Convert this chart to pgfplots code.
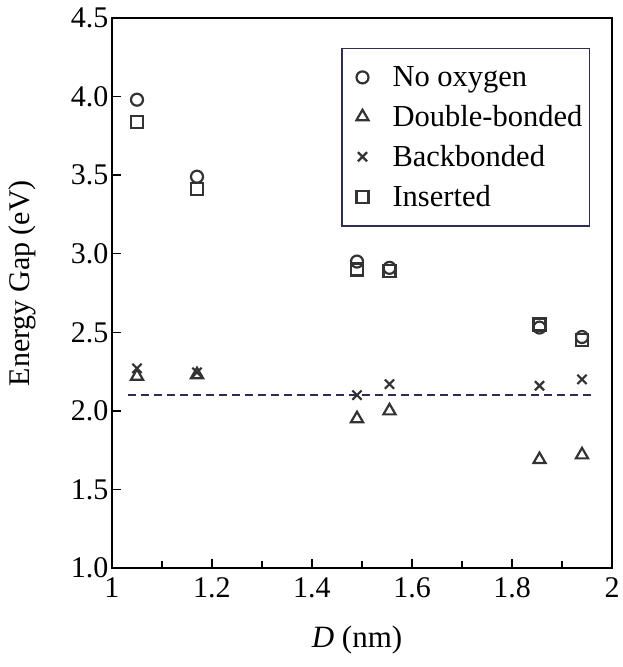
\documentclass[border=0pt]{standalone}
\usepackage{pgfplots}
\pgfplotsset{compat=1.18}
\usepackage{fontspec}
\setmainfont{Liberation Serif}
\definecolor{mk}{HTML}{333333}
\definecolor{navy}{HTML}{2E2E55}
\begin{document}
\begin{tikzpicture}
\begin{axis}[
  scale only axis,
  width=500pt, height=550pt,
  xmin=1, xmax=2, ymin=1, ymax=4.5,
  xtick={1,1.2,...,2.01},
  minor xtick={1.1,1.3,...,1.95},
  ytick={1,1.5,...,4.51},
  xticklabels={1,1.2,1.4,1.6,1.8,2},
  yticklabel style={/pgf/number format/.cd,fixed,fixed zerofill,precision=1},
  /pgf/number format/assume math mode=true,
  xticklabel style={yshift=-6pt},
  tick align=inside,
  xtick pos=bottom, ytick pos=left,
  major tick length=9pt, minor tick length=7pt,
  tick style={line width=1.4pt, black},
  axis line style={line width=1.6pt, black},
  xlabel={\textit{D} (nm)},
  ylabel={Energy Gap (eV)},
  every axis x label/.style={at={(axis description cs:0.49,-0.131)}, anchor=center},
  every axis y label/.style={at={(axis description cs:-0.18,0.518)}, rotate=90, anchor=center},
  every tick label/.append style={font=\fontsize{30}{34}\selectfont},
  xlabel style={font=\fontsize{31}{34}\selectfont},
  ylabel style={font=\fontsize{30}{34}\selectfont},
  legend style={at={(0.956,0.9455)}, anchor=north east, draw=navy, line width=1.4pt,
    font=\fontsize{30.5}{34}\selectfont, inner xsep=5pt, inner ysep=16pt,
    nodes={inner xsep=2pt},
    row sep=13.3pt, /tikz/every odd column/.append style={column sep=22pt}},
  legend cell align=left,
  legend image code/.code={\path (-15pt,0pt);
    \draw[mark repeat=2,mark phase=2,#1] plot coordinates {(0pt,0pt) (0pt,0pt) (0pt,0pt)};},
  mk/.style={only marks, mark options={draw=mk, line width=2.2pt, fill=none, solid}},
]
\addplot[navy, line width=1.6pt, dash pattern=on 8pt off 5pt, forget plot] coordinates {(1.032,2.1) (1.957,2.1)};
\addplot[mk, mark=o, mark size=6pt] coordinates {
  (1.05,3.98) (1.17,3.49) (1.49,2.95) (1.555,2.91) (1.855,2.53) (1.94,2.47)};
\addplot[mk, mark=triangle, mark size=7pt] coordinates {
  (1.05,2.22) (1.17,2.23) (1.49,1.95) (1.555,2.00) (1.855,1.69) (1.94,1.72)};
\addplot[mk, mark=x, mark size=6.5pt] coordinates {
  (1.05,2.27) (1.17,2.245) (1.49,2.10) (1.555,2.17) (1.855,2.16) (1.94,2.20)};
\addplot[mk, mark=square, mark size=6pt] coordinates {
  (1.05,3.84) (1.17,3.41) (1.49,2.90) (1.555,2.89) (1.855,2.55) (1.94,2.45)};
\legend{No oxygen,Double-bonded,Backbonded,Inserted}
\end{axis}
\path ([xshift=-112pt,yshift=-99pt]current axis.south west) rectangle ([xshift=7pt,yshift=18pt]current axis.north east);
\end{tikzpicture}
\end{document}
